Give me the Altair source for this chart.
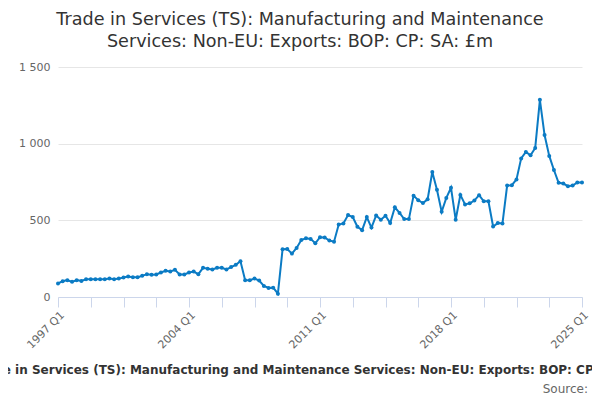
import altair as alt
import pandas as pd

# quarterly values, 1997 Q1 .. 2025 Q1 (£m)
years = list(range(1997, 2026))
values = [
    88, 103, 110, 99, 110, 105, 116, 116, 116, 116, 116, 120, 116, 120, 127, 134,
    129, 129, 138, 149, 145, 147, 160, 171, 166, 177, 147, 147, 160, 166, 149, 190,
    184, 180, 190, 190, 180, 195, 210, 233, 110, 110, 120, 107, 72, 59, 61, 22,
    311, 313, 283, 320, 372, 383, 379, 350, 390, 388, 368, 361, 473, 480, 534, 521,
    458, 436, 521, 453, 532, 504, 530, 482, 585, 548, 508, 508, 661, 631, 613, 637,
    815, 699, 556, 646, 712, 504, 666, 604, 611, 629, 664, 624, 624, 460, 482, 480,
    727, 729, 767, 904, 946, 924, 972, 1286, 1056, 920, 828, 745, 740, 723, 727, 747,
    747,
]
quarters = [f"{y} Q{q}" for y in years for q in range(1, 5)][: len(values)]
y_ticks = [0, 500, 1000, 1500]

title_lines = [
    "Trade in Services (TS): Manufacturing and Maintenance",
    "Services: Non-EU: Exports: BOP: CP: SA: £m",
]
caption = "Trade in Services (TS): Manufacturing and Maintenance Services: Non-EU: Exports: BOP: CP: SA: £m"

df = pd.DataFrame({"Quarter": quarters, "Value": values})
FONT = "DejaVu Sans"

line = (
    alt.Chart(df)
    .mark_line(
        color="#0b7bc4",
        strokeWidth=2,
        point=alt.OverlayMarkDef(color="#0b7bc4", size=16, filled=True),
    )
    .encode(
        x=alt.X(
            "Quarter:O",
            sort=None,
            title=None,
            scale=alt.Scale(type="point", padding=0),
            axis=alt.Axis(
                values=quarters[::7],
                labelExpr="indexof(datum.value, 'Q1') > 0 && (toNumber(substring(datum.value, 0, 4)) - 1997) % 7 == 0 ? datum.value : ''",
                labelAngle=-45,
                labelAlign="right",
                labelBaseline="top",
                labelFont=FONT,
                labelFontSize=11,
                labelColor="#666666",
                labelPadding=2,
                labelOverlap=False,
                domainColor="#ccd6eb",
                tickColor="#ccd6eb",
                tickSize=10,
                grid=False,
            ),
        ),
        y=alt.Y(
            "Value:Q",
            title=None,
            scale=alt.Scale(domain=[0, 1500], nice=False),
            axis=alt.Axis(
                values=y_ticks,
                labelExpr="replace(format(datum.value, ','), ',', ' ')",
                labelFont=FONT,
                labelFontSize=11,
                labelColor="#666666",
                labelPadding=8,
                domain=False,
                ticks=False,
                gridColor="#e6e6e6",
            ),
        ),
    )
)

notes = pd.DataFrame({"caption": [caption], "source": ["Source:"]})

caption_text = (
    alt.Chart(notes)
    .mark_text(font=FONT, fontSize=12, fontWeight="bold", color="#333333", align="center", baseline="middle")
    .encode(x=alt.value(254), y=alt.value(303), text="caption:N")
)

source_text = (
    alt.Chart(notes)
    .mark_text(font=FONT, fontSize=12, color="#666666", align="right", baseline="middle")
    .encode(x=alt.value(530), y=alt.value(322), text="source:N")
)

chart = (
    alt.layer(line, caption_text, source_text)
    .properties(
        width=524,
        height=230,
        padding={"left": 50, "top": 59, "right": 10, "bottom": 100},
        autosize=alt.AutoSizeParams(type="none"),
        title=alt.Title(
            text=title_lines,
            anchor="middle",
            dx=-20,
            offset=10,
            font=FONT,
            fontSize=17.6,
            fontWeight="normal",
            color="#333333",
            lineHeight=22,
        ),
    )
    .configure_view(stroke=None)
)

chart.save("out.html", embed_options={"renderer": "svg", "actions": False})
